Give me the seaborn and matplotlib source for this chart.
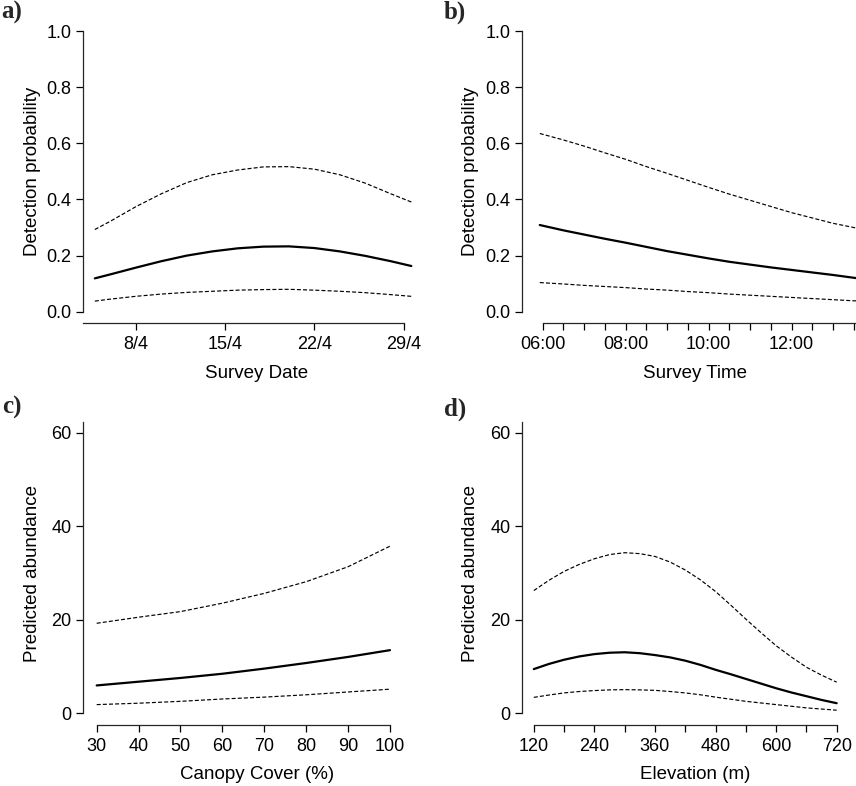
import matplotlib
matplotlib.use("Agg")
import matplotlib.pyplot as plt
import seaborn as sns
import numpy as np

sns.set_style("ticks")
plt.rcParams['font.family'] = ['Liberation Sans', 'DejaVu Sans']

# ---------------- data ----------------
# a) Survey date (day of April)
date_x = [4.8, 6, 8, 10, 12, 14, 16, 18, 20, 22, 24, 26, 28, 29.6]
date_mean = [0.119, 0.133, 0.157, 0.180, 0.200, 0.215, 0.226, 0.232, 0.233, 0.227, 0.215, 0.199, 0.180, 0.163]
date_upper = [0.293, 0.322, 0.374, 0.420, 0.460, 0.488, 0.505, 0.516, 0.517, 0.508, 0.488, 0.458, 0.420, 0.391]
date_lower = [0.038, 0.045, 0.055, 0.063, 0.069, 0.073, 0.077, 0.079, 0.080, 0.077, 0.073, 0.068, 0.061, 0.055]
date_ticks = [8, 15, 22, 29]
date_labels = ["8/4", "15/4", "22/4", "29/4"]

# b) Survey time (hours)
time_x = [5.93, 6.5, 7, 7.5, 8, 8.5, 9, 9.5, 10, 10.5, 11, 11.5, 12, 12.5, 13, 13.5, 13.6]
time_mean = [0.309, 0.290, 0.275, 0.260, 0.246, 0.231, 0.216, 0.203, 0.190, 0.178, 0.168, 0.158, 0.149, 0.140, 0.131, 0.121, 0.119]
time_upper = [0.635, 0.612, 0.590, 0.566, 0.543, 0.517, 0.493, 0.468, 0.443, 0.419, 0.397, 0.375, 0.353, 0.334, 0.315, 0.300, 0.297]
time_lower = [0.104, 0.099, 0.094, 0.090, 0.086, 0.081, 0.077, 0.072, 0.068, 0.063, 0.059, 0.055, 0.051, 0.047, 0.043, 0.039, 0.039]
time_major = [6, 8, 10, 12]
time_labels = ["06:00", "08:00", "10:00", "12:00"]
time_minor = [6.5, 7, 7.5, 8.5, 9, 9.5, 10.5, 11, 11.5, 12.5, 13, 13.5]

# c) Canopy cover (%)
canopy_x = [30, 40, 50, 60, 70, 80, 90, 100]
canopy_mean = [5.9, 6.7, 7.5, 8.4, 9.5, 10.7, 12.0, 13.45]
canopy_upper = [19.2, 20.5, 21.7, 23.5, 25.6, 28.1, 31.3, 35.7]
canopy_lower = [1.8, 2.1, 2.5, 3.0, 3.4, 3.9, 4.5, 5.1]
canopy_ticks = [30, 40, 50, 60, 70, 80, 90, 100]

# d) Elevation (m)
elev_x = [120, 150, 180, 210, 240, 270, 300, 330, 360, 390, 420, 450, 480, 510, 540, 570, 600, 630, 660, 690, 720]
elev_mean = [9.4, 10.5, 11.4, 12.1, 12.6, 12.9, 13.0, 12.8, 12.4, 11.9, 11.2, 10.3, 9.25, 8.3, 7.3, 6.3, 5.3, 4.4, 3.6, 2.8, 2.1]
elev_upper = [26.2, 28.4, 30.3, 31.8, 33.0, 33.9, 34.3, 34.1, 33.5, 32.3, 30.6, 28.5, 26.0, 23.1, 20.1, 17.2, 14.4, 12.0, 9.8, 8.1, 6.6]
elev_lower = [3.35, 3.85, 4.3, 4.6, 4.8, 4.95, 5.0, 4.95, 4.85, 4.6, 4.3, 3.9, 3.4, 2.95, 2.5, 2.15, 1.8, 1.45, 1.1, 0.85, 0.6]
elev_major = [120, 240, 360, 480, 600, 720]
elev_minor = [180, 300, 420, 540, 660]

prob_ticks = [0.0, 0.2, 0.4, 0.6, 0.8, 1.0]
prob_labels = ["0.0", "0.2", "0.4", "0.6", "0.8", "1.0"]
abund_ticks = [0, 20, 40, 60]

# ---------------- figure ----------------
W, H = 856, 786
fig = plt.figure(figsize=(W / 100, H / 100), dpi=100)


def add_axes_px(x0, x1, ytop, ybot):
    return fig.add_axes([x0 / W, (H - ybot) / H, (x1 - x0) / W, (ybot - ytop) / H])


TICKFS = 13
LABFS = 13.5
dash = (0, (3.4, 1.8))


def draw(ax, x, mean, up, lo):
    sns.lineplot(x=x, y=up, ax=ax, color="black", lw=0.85, linestyle=dash)
    sns.lineplot(x=x, y=lo, ax=ax, color="black", lw=0.85, linestyle=dash)
    sns.lineplot(x=x, y=mean, ax=ax, color="black", lw=1.6)


def style(ax, xlim, ylim, xb, yb):
    ax.set_xlim(*xlim)
    ax.set_ylim(*ylim)
    for s in ["top", "right"]:
        ax.spines[s].set_visible(False)
    ax.spines["left"].set_bounds(*yb)
    ax.spines["bottom"].set_bounds(*xb)
    ax.spines["left"].set_linewidth(0.9)
    ax.spines["bottom"].set_linewidth(0.9)
    ax.tick_params(axis="both", which="both", length=5, width=0.9, color="black",
                   labelsize=TICKFS, labelcolor="black")
    ax.tick_params(axis="y", pad=3)
    ax.tick_params(axis="x", pad=4.5)
    ax.set_facecolor("white")


# panel a
axa = add_axes_px(82.7, 428.7, 19.8, 323.0)
draw(axa, date_x, date_mean, date_upper, date_lower)
style(axa, (3.85, 30.96), (-0.04, 1.04), (3.85, 29), (0, 1))
axa.set_xticks(date_ticks, date_labels)
axa.set_yticks(prob_ticks, prob_labels)

# panel b
axb = add_axes_px(521.7, 856, 19.8, 323.0)
draw(axb, time_x, time_mean, time_upper, time_lower)
style(axb, (5.494, 13.55), (-0.04, 1.04), (6, 13.55), (0, 1))
axb.set_xticks(time_major, time_labels)
axb.set_xticks(time_minor, minor=True)
axb.set_yticks(prob_ticks, prob_labels)

# panel c
axc = add_axes_px(82.7, 428.7, 422.3, 724.7)
draw(axc, canopy_x, canopy_mean, canopy_upper, canopy_lower)
style(axc, (26.66, 109.24), (-2.5, 62.2), (30, 100), (0, 62.2))
axc.set_xticks(canopy_ticks)
axc.set_yticks(abund_ticks)

# panel d
axd = add_axes_px(521.7, 856, 422.3, 724.7)
draw(axd, elev_x, elev_mean, elev_upper, elev_lower)
style(axd, (96, 758.3), (-2.5, 62.2), (120, 720), (0, 62.2))
axd.set_xticks(elev_major)
axd.set_xticks(elev_minor, minor=True)
axd.set_yticks(abund_ticks)

# axis labels
labels = [
    (axa, "Survey Date", "Detection probability", 0.503, -0.145),
    (axb, "Survey Time", "Detection probability", 0.518, -0.153),
    (axc, "Canopy Cover (%)", "Predicted abundance", 0.503, -0.145),
    (axd, "Elevation (m)", "Predicted abundance", 0.518, -0.153),
]
for ax, xl, yl, xc, yc in labels:
    ax.set_xlabel(xl, fontsize=LABFS, color="black")
    ax.set_ylabel(yl, fontsize=LABFS, color="black")
    ax.xaxis.set_label_coords(xc, -0.138)
    ax.yaxis.set_label_coords(yc, 0.5)
    ax.yaxis.label.set_verticalalignment("center")

# panel letters
for x, y, t in [(1, 1, "a)"), (444, 1, "b)"), (2, 396, "c)"), (444, 398, "d)")]:
    fig.text(x / W, 1 - y / H, t, fontsize=18, fontweight="bold",
             family=["Liberation Serif", "DejaVu Serif"], ha="left", va="top")

fig.savefig("out.png", dpi=100, facecolor="white")
